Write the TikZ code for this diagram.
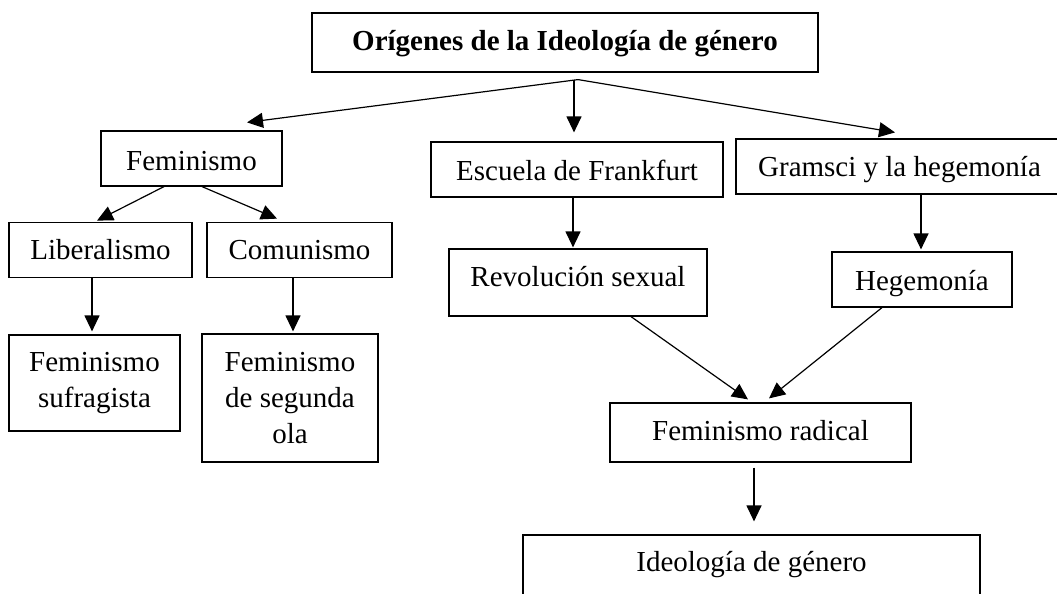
\documentclass[tikz,border=0pt]{standalone}
\usepackage{fontspec}
\setmainfont{Liberation Serif}
\usetikzlibrary{arrows.meta}

\begin{document}
\begin{tikzpicture}[
  x=1pt, y=-1pt,
  concept/.style={rectangle, draw, line width=1.2pt, inner sep=0pt, align=center,
    font=\fontsize{29}{36}\selectfont},
  single/.style={text height=#1, text depth=0pt},
  single/.default=20pt,
  arrow/.style={-{Triangle[length=16pt,width=15pt]}, line width=1.2pt}
]

\useasboundingbox (0,0) rectangle (1057,594);
\clip (0,0) rectangle (1057,594);

% Top box
\node[concept, single=16pt, minimum width=506pt, minimum height=59pt,
  font=\fontsize{29}{36}\selectfont\bfseries] (origen) at (565,42.5)
  {Orígenes de la Ideología de género};

% First level
\node[concept, single=24pt, minimum width=181pt, minimum height=55pt] (fem) at (191.5,158.5) {Feminismo};
\node[concept, single=21pt, minimum width=292pt, minimum height=55pt] (frank) at (577,169.5) {Escuela de Frankfurt};
\node[concept, single, minimum width=327pt, minimum height=55pt] (gramsci) at (899.5,166.5) {Gramsci y la hegemonía};

% Second level
\node[concept, single, minimum width=183pt, minimum height=55pt] (lib) at (100.5,249.75) {Liberalismo};
\node[concept, single, minimum width=185pt, minimum height=55pt] (com) at (299.5,249.75) {Comunismo};
\node[concept, single=8pt, minimum width=258pt, minimum height=67pt] (rev) at (578,282.5) {Revolución sexual};
\node[concept, single=21pt, minimum width=180pt, minimum height=55pt] (heg) at (922,279.5) {Hegemonía};

% Third level
\node[concept, minimum width=171pt, minimum height=96pt] (sufr) at (94.5,383) {Feminismo\\sufragista};
\node[concept, minimum width=176pt, minimum height=128pt] (segunda) at (290,398) {Feminismo\\de segunda\\ola};
\node[concept, single=15pt, minimum width=301pt, minimum height=59pt] (radical) at (760.5,432.5) {Feminismo radical};
\node[concept, single=9.5pt, minimum width=457pt, minimum height=64pt] (ideo) at (751.5,567) {Ideología de género};

% Arrows from the top
\draw[arrow] ([xshift=13pt,yshift=-7pt]origen.south) -- ([xshift=55.5pt,yshift=8pt]fem.north);
\draw[arrow] ([xshift=9pt,yshift=-7pt]origen.south) -- ([xshift=-3pt,yshift=9pt]frank.north);
\draw[arrow] ([xshift=13pt,yshift=-7pt]origen.south) -- ([xshift=-4.5pt,yshift=6pt]gramsci.north);

% Feminismo branch
\draw[arrow] ([xshift=-27.5pt]fem.south) -- ([xshift=-3.5pt,yshift=1pt]lib.north);
\draw[arrow] ([xshift=10.5pt]fem.south) -- ([xshift=-22.5pt,yshift=3pt]com.north);
\draw[arrow] ([xshift=-8.5pt]lib.south) -- ([xshift=-2.5pt,yshift=3pt]sufr.north);
\draw[arrow] ([xshift=-6.5pt]com.south) -- ([xshift=3pt,yshift=2pt]segunda.north);

% Frankfurt and Gramsci branches
\draw[arrow] ([xshift=-4pt]frank.south) -- ([xshift=-5pt,yshift=1pt]rev.north);
\draw[arrow] ([xshift=21.5pt]gramsci.south) -- ([xshift=-1pt,yshift=2pt]heg.north);
\draw[arrow] ([xshift=53pt]rev.south) -- ([xshift=-12.5pt,yshift=3pt]radical.north);
\draw[arrow] ([xshift=-40pt]heg.south) -- ([xshift=8.5pt,yshift=4pt]radical.north);
\draw[arrow] ([xshift=-6.5pt,yshift=-5pt]radical.south) -- ([xshift=2.5pt,yshift=13pt]ideo.north);

\end{tikzpicture}
\end{document}
